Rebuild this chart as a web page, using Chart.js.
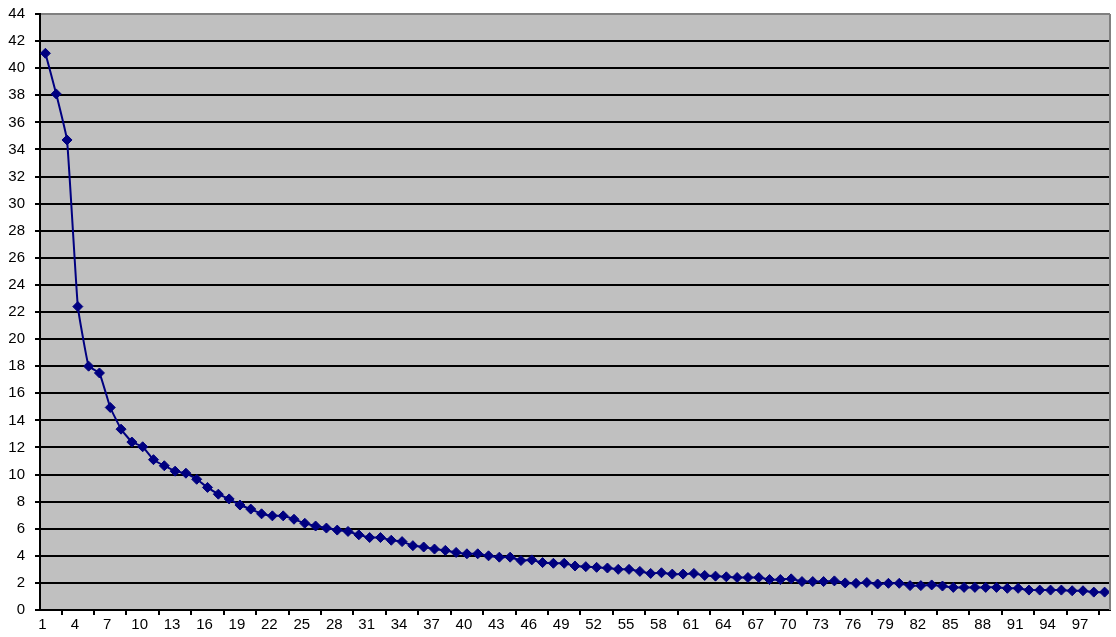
<!DOCTYPE html>
<html>
<head>
<meta charset="utf-8">
<style>
  html, body { margin: 0; padding: 0; background: #ffffff; }
  #chart { display: block; }
</style>
<script src="https://cdn.jsdelivr.net/npm/chart.js@4/dist/chart.umd.min.js"></script>
</head>
<body>
<canvas id="chart" width="1116" height="637"></canvas>
<script>
// Category numbers along the horizontal axis
const categories = [
  1, 2, 3, 4, 5, 6, 7, 8, 9, 10, 11, 12, 13, 14, 15, 16, 17, 18, 19, 20,
  21, 22, 23, 24, 25, 26, 27, 28, 29, 30, 31, 32, 33, 34, 35, 36, 37, 38, 39, 40,
  41, 42, 43, 44, 45, 46, 47, 48, 49, 50, 51, 52, 53, 54, 55, 56, 57, 58, 59, 60,
  61, 62, 63, 64, 65, 66, 67, 68, 69, 70, 71, 72, 73, 74, 75, 76, 77, 78, 79, 80,
  81, 82, 83, 84, 85, 86, 87, 88, 89, 90, 91, 92, 93, 94, 95, 96, 97, 98, 99
];

// Series values, one per category
const values = [
  41.1, 38.1, 34.7, 22.4, 18.0, 17.5, 14.95, 13.35, 12.4, 12.05,
  11.1, 10.65, 10.25, 10.1, 9.65, 9.05, 8.55, 8.2, 7.75, 7.45,
  7.1, 6.95, 6.95, 6.7, 6.4, 6.2, 6.05, 5.9, 5.8, 5.55,
  5.35, 5.35, 5.15, 5.05, 4.75, 4.65, 4.5, 4.4, 4.25, 4.15,
  4.15, 4.0, 3.9, 3.9, 3.65, 3.7, 3.5, 3.45, 3.45, 3.25,
  3.2, 3.15, 3.1, 3.0, 3.0, 2.85, 2.7, 2.75, 2.65, 2.65,
  2.7, 2.55, 2.5, 2.45, 2.4, 2.4, 2.4, 2.25, 2.25, 2.3,
  2.1, 2.1, 2.1, 2.15, 2.0, 1.97, 2.03, 1.92, 1.97, 1.97,
  1.8, 1.8, 1.85, 1.77, 1.67, 1.67, 1.67, 1.67, 1.67, 1.6,
  1.6, 1.47, 1.47, 1.47, 1.47, 1.42, 1.42, 1.32, 1.32
];

// Axis ranges and label spacing
const yMin = 0;
const yMax = 44;
const yStep = 2;
const xLabelEvery = 3;

// Gray plot background plus the gray frame on the right edge
const plotFrame = {
  id: 'plotFrame',
  beforeDraw(chart) {
    const { ctx, chartArea: a } = chart;
    ctx.save();
    ctx.fillStyle = '#c0c0c0';
    ctx.fillRect(a.left, a.top, a.right - a.left, a.bottom - a.top);
    ctx.restore();
  },
  afterDraw(chart) {
    const { ctx, chartArea: a } = chart;
    ctx.save();
    ctx.strokeStyle = '#808080';
    ctx.lineWidth = 2;
    ctx.beginPath();
    ctx.moveTo(a.right, a.top);
    ctx.lineTo(a.right, a.bottom);
    ctx.stroke();
    ctx.restore();
  }
};

const font = { family: 'Arial, "Liberation Sans", sans-serif', size: 15 };

new Chart(document.getElementById('chart'), {
  type: 'line',
  data: {
    labels: categories,
    datasets: [{
      data: values,
      borderColor: '#000080',
      backgroundColor: '#000080',
      borderWidth: 2,
      tension: 0.1,
      pointStyle: 'rectRot',
      pointRadius: 5,
      pointBorderWidth: 1,
      pointBackgroundColor: '#000080',
      pointBorderColor: '#000080',
      fill: false
    }]
  },
  options: {
    responsive: false,
    animation: false,
    events: [],
    layout: { padding: { left: 0, right: 5, top: 14, bottom: 0 } },
    plugins: {
      legend: { display: false },
      tooltip: { enabled: false }
    },
    scales: {
      x: {
        type: 'category',
        offset: true,
        grid: {
          offset: true,
          drawOnChartArea: false,
          drawTicks: true,
          tickLength: 5,
          tickColor: '#000',
          tickWidth: 2,
          lineWidth: 2,
          color: '#000'
        },
        border: { display: true, color: '#000', width: 2 },
        ticks: {
          autoSkip: false,
          maxRotation: 0,
          minRotation: 0,
          padding: 1,
          labelOffset: -3,
          color: '#000',
          font: font,
          callback: function (value, index) {
            return index % xLabelEvery === 0 ? this.getLabelForValue(value) : null;
          }
        },
        afterFit(scale) {
          scale.height = 27;
          scale.paddingLeft = 0;
          scale.paddingRight = 0;
        }
      },
      y: {
        min: yMin,
        max: yMax,
        grid: {
          drawTicks: true,
          tickLength: 5,
          tickColor: '#000',
          tickWidth: 2,
          lineWidth: 2,
          color: (c) => (c.tick && c.tick.value === yMax ? '#808080' : '#000')
        },
        border: { display: true, color: '#000', width: 2 },
        ticks: {
          stepSize: yStep,
          padding: 10,
          color: '#000',
          font: font
        },
        afterFit(scale) {
          scale.width = 40;
          scale.paddingTop = 0;
          scale.paddingBottom = 0;
        }
      }
    }
  },
  plugins: [plotFrame]
});
</script>
</body>
</html>
